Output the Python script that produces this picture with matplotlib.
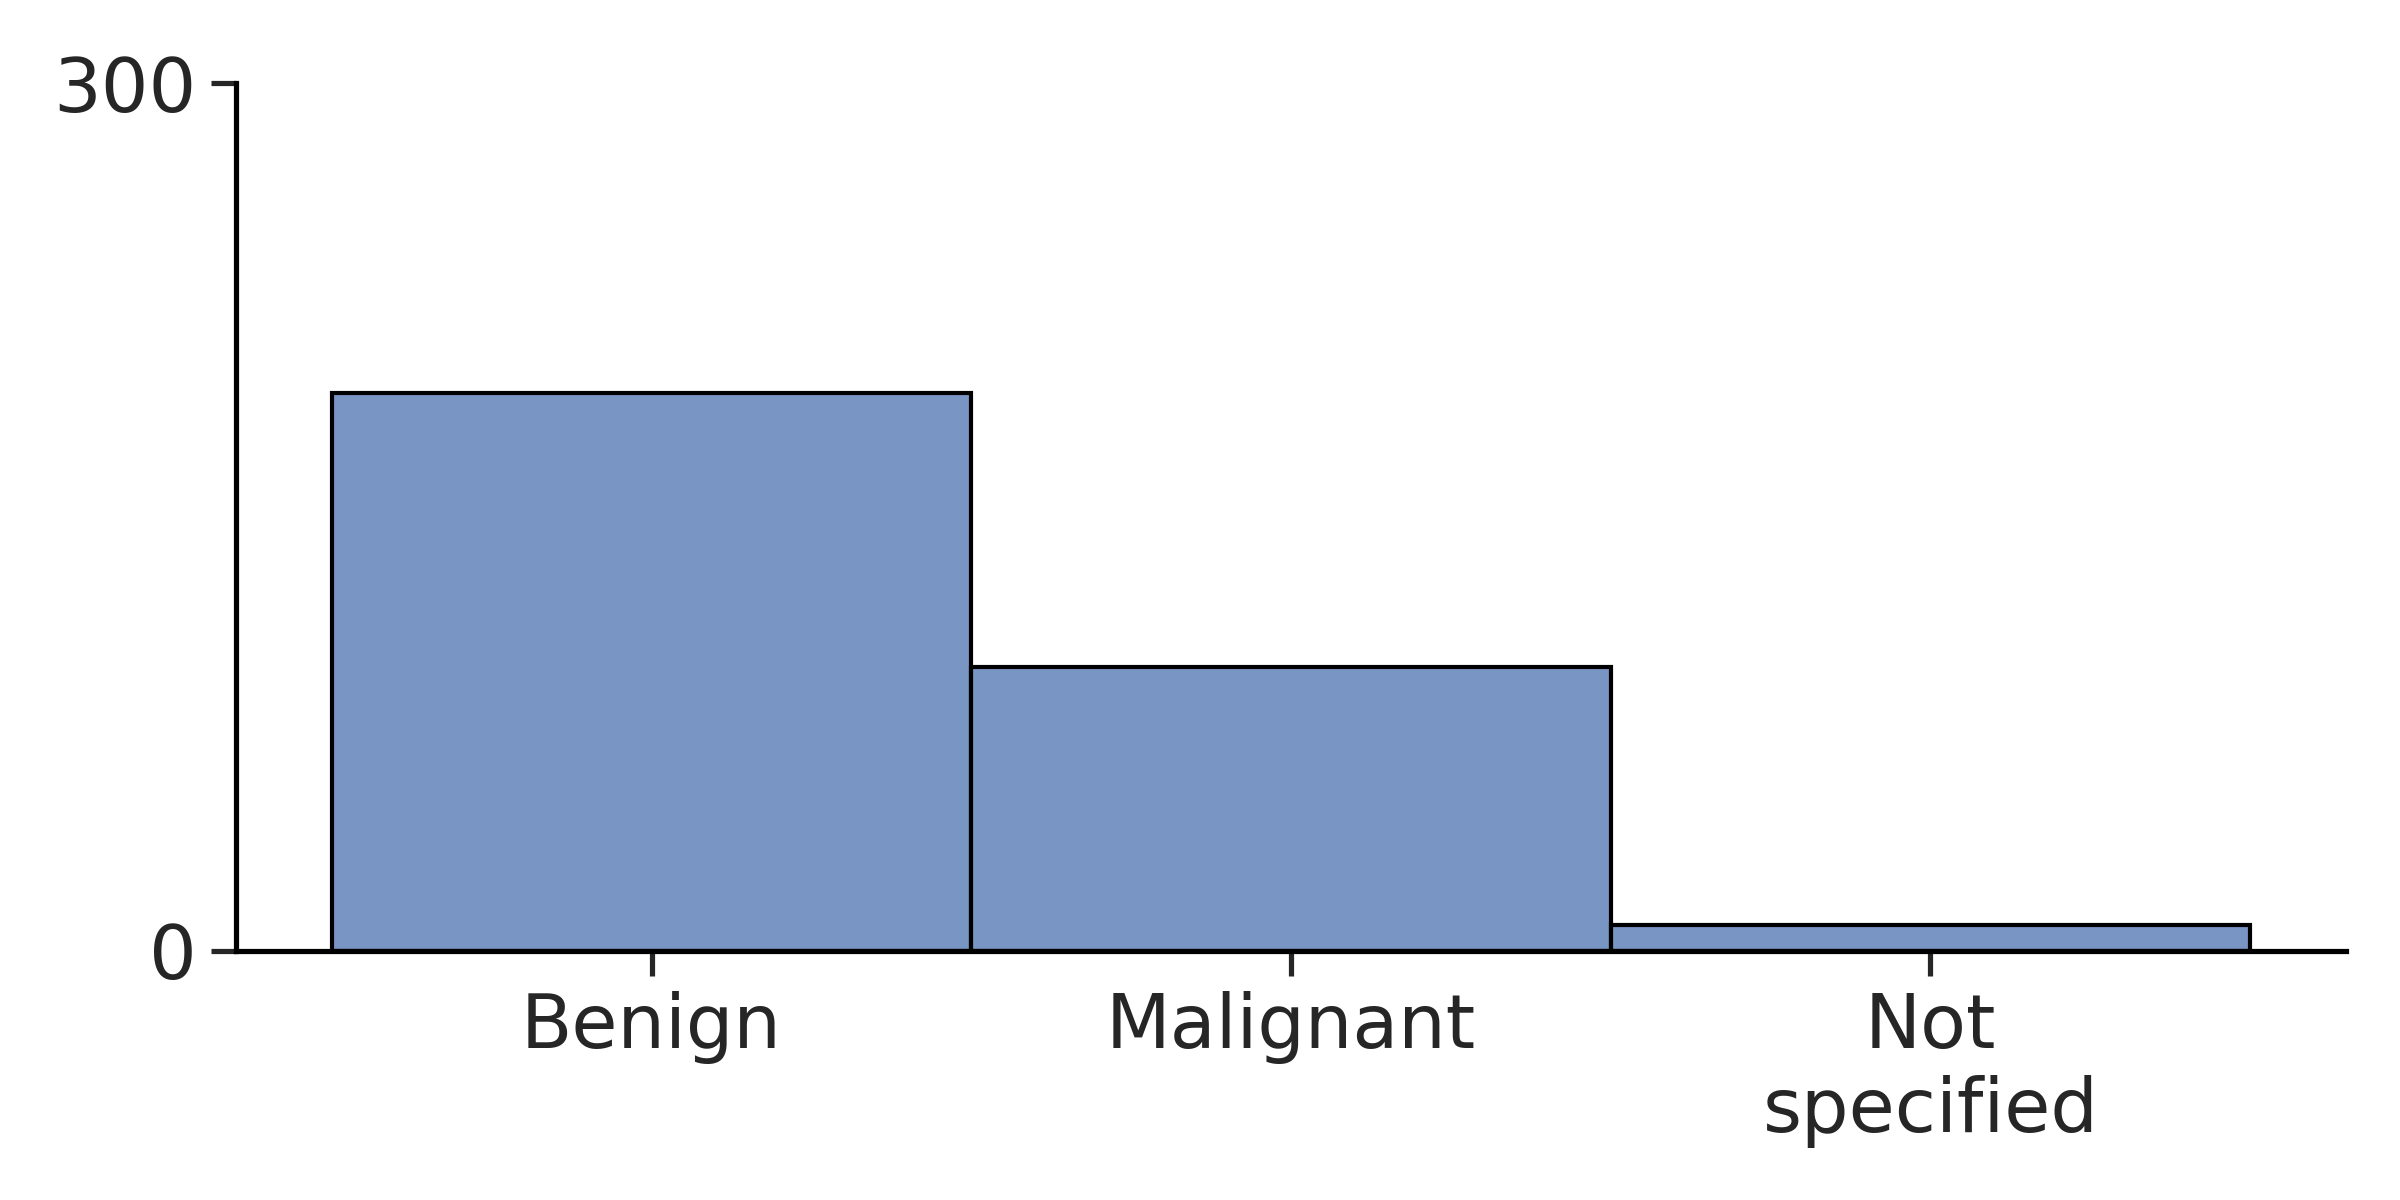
import numpy as np
import matplotlib.pyplot as plt

categories = ['Benign', 'Malignant', 'Not\nspecified']
counts = [193, 98, 9]
y_ticks = [0, 300]

plt.rcParams['font.family'] = 'DejaVu Sans'

fig = plt.figure(figsize=(8, 4), dpi=300)
ax = fig.add_axes([0.0983, 0.2075, 0.9775 - 0.0983, 0.9308 - 0.2075])

x = np.arange(len(categories))
ax.bar(x, counts, width=1.0, facecolor=(76/255, 114/255, 176/255, 0.75),
       edgecolor='black', linewidth=1.0)

ax.set_xlim(-0.65, 2.65)
ax.set_ylim(0, 300)
ax.set_xticks(x)
ax.set_xticklabels(categories, fontsize=18, color='#262626')
ax.set_yticks(y_ticks)
ax.set_yticklabels([str(v) for v in y_ticks], fontsize=18, color='#262626')
ax.tick_params(axis='both', length=6, width=1.25, color='#262626')
ax.tick_params(axis='x', pad=3.5)
ax.tick_params(axis='y', pad=3.5)

for side in ['top', 'right']:
    ax.spines[side].set_visible(False)
for side in ['left', 'bottom']:
    ax.spines[side].set_linewidth(1.25)
    ax.spines[side].set_color('black')

fig.savefig('out.png', dpi=300)
